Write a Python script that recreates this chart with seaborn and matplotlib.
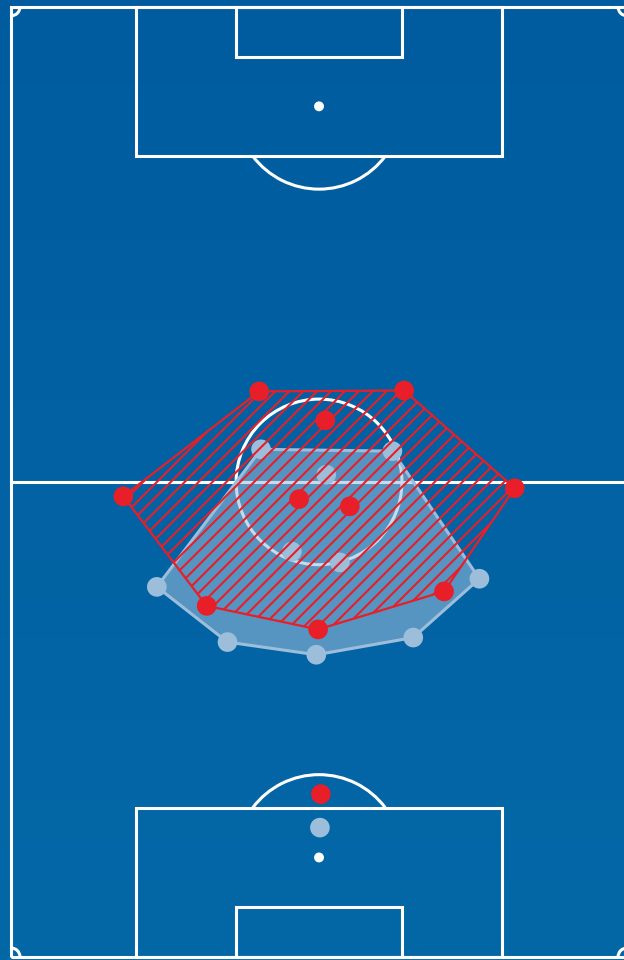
import numpy as np
import pandas as pd
import matplotlib
matplotlib.use('Agg')
import matplotlib.pyplot as plt
import seaborn as sns
from matplotlib.patches import Rectangle, Arc, Circle, Polygon

# Average positions (metres on a 68 x 105 pitch, goal at y=0 bottom)
red_x = [27.4, 43.4, 34.7, 12.4, 55.6, 31.8, 37.4, 21.6, 33.9, 47.8, 34.2]
red_y = [62.5, 62.6, 59.3, 50.9, 51.8, 50.6, 49.8, 38.8, 36.2, 40.4, 18.0]
blue_x = [27.6, 42.1, 34.8, 31.0, 36.3, 16.1, 51.7, 23.9, 33.7, 44.4, 34.1]
blue_y = [56.1, 55.9, 53.3, 44.8, 43.6, 40.9, 41.8, 34.8, 33.4, 35.3, 14.3]
red_gk = 10   # index of goalkeeper, left out of the shape
blue_gk = 10

RED = '#e81e28'
LIGHT = '#9dbedb'
LINE = 'white'

df = pd.DataFrame({
    'x': red_x + blue_x,
    'y': red_y + blue_y,
    'team': ['home'] * len(red_x) + ['away'] * len(blue_x),
})


def hull(xs, ys):
    # monotone chain convex hull
    pts = sorted(set(zip(xs, ys)))
    def cross(o, a, b):
        return (a[0] - o[0]) * (b[1] - o[1]) - (a[1] - o[1]) * (b[0] - o[0])
    lower, upper = [], []
    for p in pts:
        while len(lower) >= 2 and cross(lower[-2], lower[-1], p) <= 0:
            lower.pop()
        lower.append(p)
    for p in reversed(pts):
        while len(upper) >= 2 and cross(upper[-2], upper[-1], p) <= 0:
            upper.pop()
        upper.append(p)
    return np.array(lower[:-1] + upper[:-1])


# dpi 125 so the hatch spacing comes out near the reference
fig = plt.figure(figsize=(4.992, 7.68), dpi=125)
ax = fig.add_axes([0, 0, 1, 1])
ax.set_xlim(-1.21, 67.66)
ax.set_ylim(-0.33, 105.75)
ax.axis('off')

# background gradient
grad = np.linspace(0, 1, 256).reshape(-1, 1)
cmap = matplotlib.colors.LinearSegmentedColormap.from_list('bg', ['#0468a7', '#005c9f'])
ax.imshow(grad, cmap=cmap, extent=[-1.21, 67.66, -0.33, 105.75], origin='lower',
          aspect='auto', zorder=0)

lw = 1.76
kw = dict(fill=False, edgecolor=LINE, linewidth=lw, zorder=1)
ax.add_patch(Rectangle((0, 0), 68, 105, **kw))
ax.plot([0, 68], [52.5, 52.5], color=LINE, linewidth=lw, zorder=1)
ax.add_patch(Circle((34, 52.5), 9.15, **kw))
for y0, sgn in [(0, 1), (105, -1)]:
    ax.add_patch(Rectangle((13.84, y0), 40.32, 16.5 * sgn, **kw))
    ax.add_patch(Rectangle((24.84, y0), 18.32, 5.5 * sgn, **kw))
    spot = y0 + 11 * sgn
    ax.add_patch(Circle((34, spot), 0.45, color=LINE, zorder=1))
    ang = np.degrees(np.arccos(5.5 / 9.15))
    if sgn == 1:
        ax.add_patch(Arc((34, spot), 18.3, 18.3, theta1=90 - ang, theta2=90 + ang,
                         color=LINE, linewidth=lw, zorder=1))
    else:
        ax.add_patch(Arc((34, spot), 18.3, 18.3, theta1=270 - ang, theta2=270 + ang,
                         color=LINE, linewidth=lw, zorder=1))
for cx, cy, t1 in [(0, 0, 0), (68, 0, 90), (68, 105, 180), (0, 105, 270)]:
    ax.add_patch(Arc((cx, cy), 2, 2, theta1=t1, theta2=t1 + 90,
                     color=LINE, linewidth=lw, zorder=1))

# away team (light blue) shape
bx = [v for i, v in enumerate(blue_x) if i != blue_gk]
by = [v for i, v in enumerate(blue_y) if i != blue_gk]
bh = hull(bx, by)
sns.scatterplot(data=df[df.team == 'away'], x='x', y='y', color=LIGHT, s=128,
                edgecolor='none', legend=False, ax=ax, zorder=2)
ax.add_patch(Polygon(bh, closed=True, facecolor=LIGHT, alpha=0.55,
                     edgecolor='none', zorder=3))
ax.add_patch(Polygon(bh, closed=True, fill=False, edgecolor=LIGHT,
                     linewidth=1.76, zorder=3))

# home team (red) shape
rx = [v for i, v in enumerate(red_x) if i != red_gk]
ry = [v for i, v in enumerate(red_y) if i != red_gk]
rh = hull(rx, ry)
plt.rcParams['hatch.linewidth'] = 1.2
ax.add_patch(Polygon(rh, closed=True, facecolor='none', edgecolor=RED,
                     hatch='///', linewidth=1.28, zorder=4))
sns.scatterplot(data=df[df.team == 'home'], x='x', y='y', color=RED, s=128,
                edgecolor='none', legend=False, ax=ax, zorder=5)

ax.set_xlabel('')
ax.set_ylabel('')
fig.savefig('out.png', dpi=125)
